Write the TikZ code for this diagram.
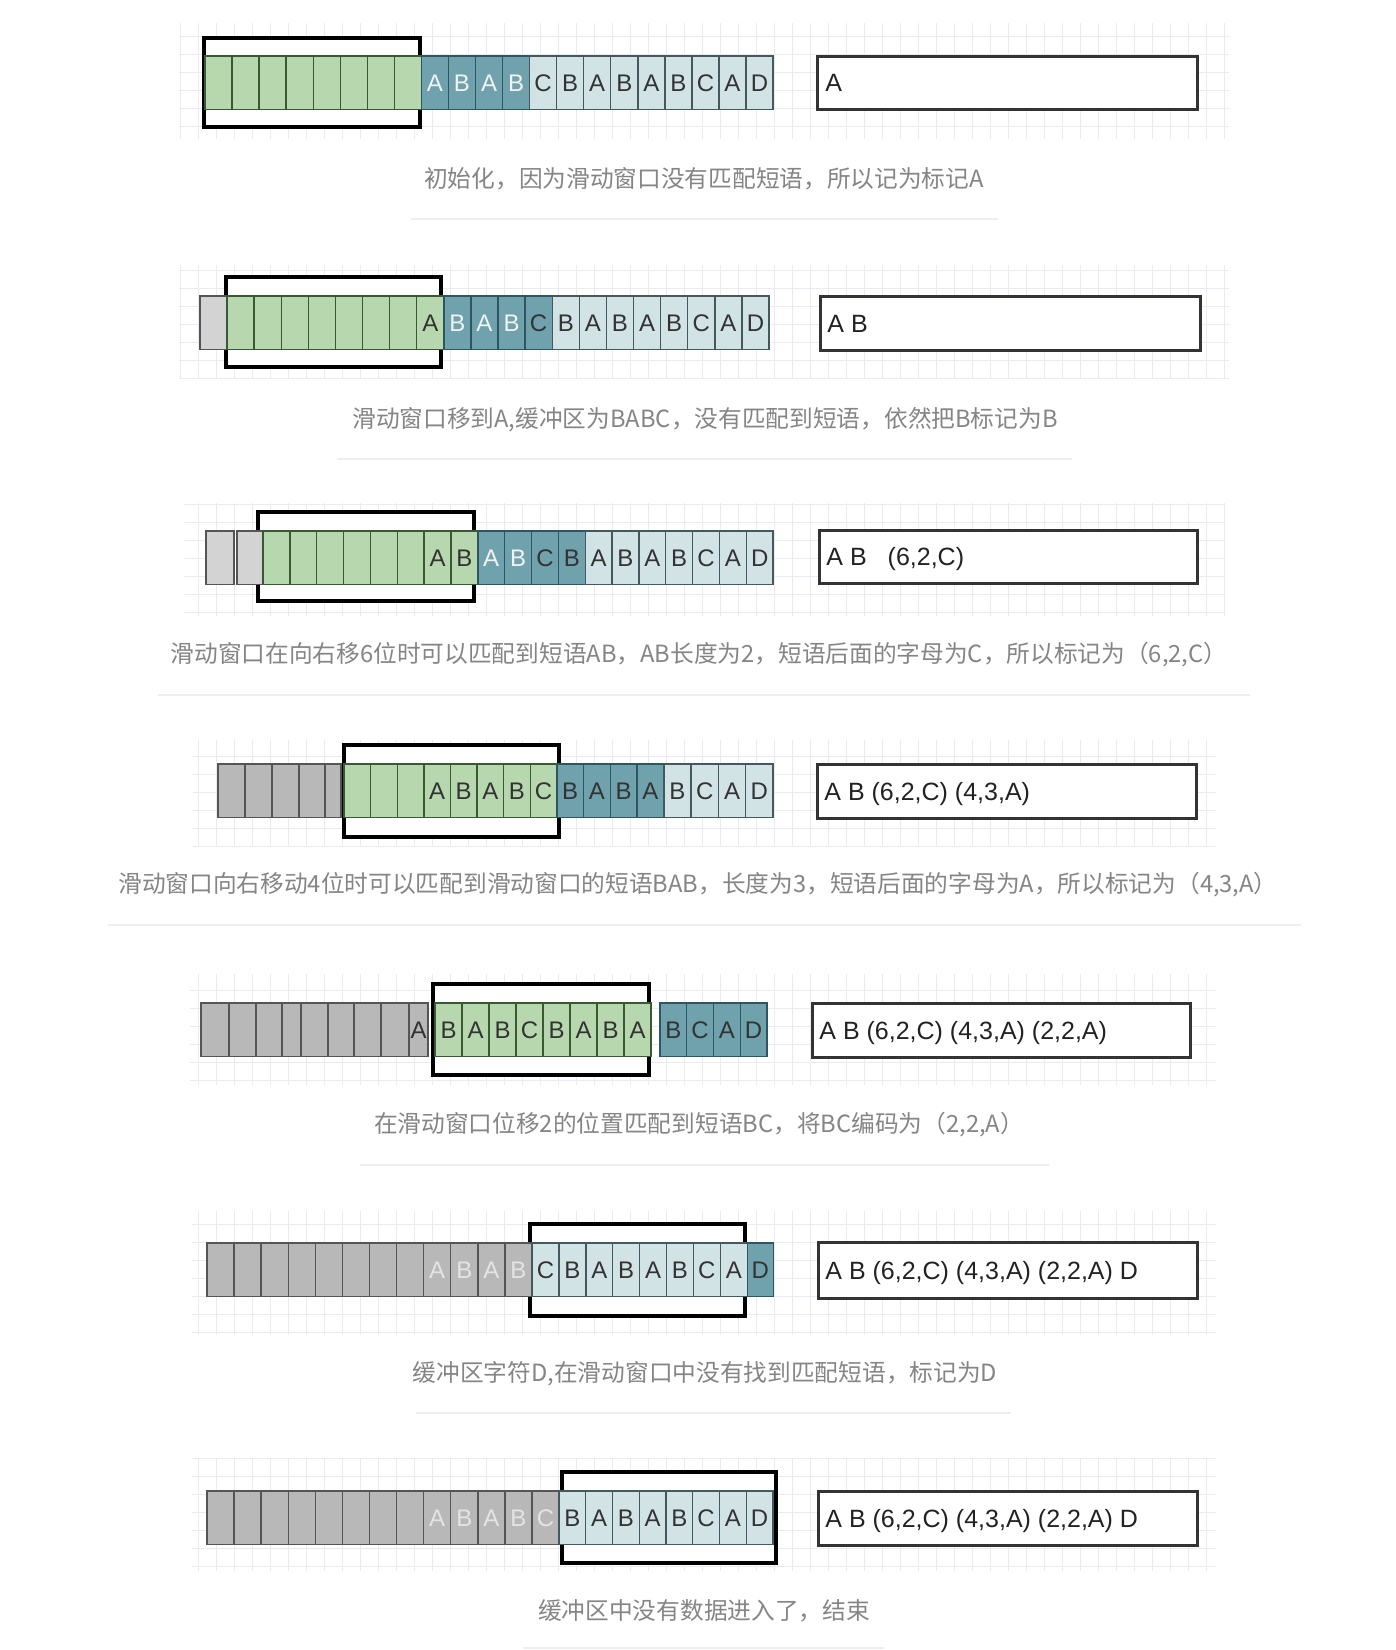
\documentclass[tikz,border=0pt]{standalone}
\usepackage{fontspec}
\setmainfont{Liberation Sans}
\newfontfamily\cjk{Noto Sans CJK SC}
\definecolor{cgreen}{HTML}{B7D8AE}
\definecolor{bgreen}{HTML}{3A5834}
\definecolor{cteal}{HTML}{6FA2AD}
\definecolor{bteal}{HTML}{2E565E}
\definecolor{clight}{HTML}{D2E3E6}
\definecolor{blight}{HTML}{45595D}
\definecolor{cgray}{HTML}{B8B8B8}
\definecolor{cgrayl}{HTML}{D3D3D3}
\definecolor{bgray}{HTML}{555555}
\definecolor{tdark}{HTML}{333333}
\definecolor{twhite}{HTML}{F2F2F2}
\definecolor{tfade}{HTML}{E4E4E4}
\definecolor{boutc}{HTML}{333333}
\definecolor{toutc}{HTML}{222222}
\definecolor{tcap}{HTML}{858585}
\definecolor{csep}{HTML}{EEEEEE}
\definecolor{cgrid}{HTML}{EAEAF5}
\newcommand\seg[6]{\foreach \t [count=\k from 0] in {#6} {\node[#5, minimum width={#3*0.5pt}, anchor=north west] (#1\k) at ({#2+#3*\k},#4) {\t};}}
\newcommand\segx[4]{\foreach \a/\b/\t [count=\k from 0] in {#4} {\node[#2, minimum width={(\b-\a)*0.5pt}, anchor=north west] (#1\k) at (\a,#3) {\t};}}
\begin{document}
\begin{tikzpicture}[x=0.5pt,y=-0.5pt,
 cellbase/.style={draw, line width=0.7pt, minimum height=26.75pt, inner sep=0pt, outer sep=0pt, font=\fontsize{12}{12}\selectfont},
 gc/.style={cellbase, fill=cgreen, draw=bgreen, text=tdark},
 dk/.style={cellbase, fill=cteal, draw=bteal, text=twhite},
 dkd/.style={dk, text=tdark},
 lt/.style={cellbase, fill=clight, draw=blight, text=tdark},
 gy/.style={cellbase, fill=cgray, draw=bgray, text=tfade},
 gyd/.style={gy, text=tdark},
 gyl/.style={cellbase, fill=cgrayl, draw=bgray},
 win/.style={draw=black, line width=1.8pt, fill=white},
 outbox/.style={draw=boutc, line width=1.5pt, fill=white},
 outtxt/.style={anchor=base west, inner sep=0pt, text=toutc, font=\fontsize{12.5}{14}\selectfont},
 caption/.style={text=tcap, font=\cjk\fontsize{11.85}{13}\selectfont, inner sep=0pt},
 sepline/.style={draw=csep, line width=1pt},
 gridl/.style={draw=cgrid, line width=0.5pt}]
\useasboundingbox (0,0) rectangle (1396,1650);
\fill[white] (0,0) rectangle (1396,1650);
% grids
\draw[gridl] (179,139) grid[xstep=9pt,ystep=9pt] (1229,23);
\draw[gridl] (179,379) grid[xstep=9pt,ystep=9pt] (1229,265);
\draw[gridl] (184,616) grid[xstep=9pt,ystep=9pt] (1225,503);
\draw[gridl] (193,846) grid[xstep=9pt,ystep=9pt] (1216,740);
\draw[gridl] (190,1085) grid[xstep=9pt,ystep=9pt] (1216,974);
\draw[gridl] (192,1335) grid[xstep=9pt,ystep=9pt] (1216,1211);
\draw[gridl] (192,1571) grid[xstep=9pt,ystep=9pt] (1216,1458);
% separators
\draw[sepline] (411,219) -- (998,219);
\draw[sepline] (337,459) -- (1072,459);
\draw[sepline] (158,695) -- (1250,695);
\draw[sepline] (108,925) -- (1301,925);
\draw[sepline] (360,1165) -- (1049,1165);
\draw[sepline] (416,1413) -- (1011,1413);
\draw[sepline] (523,1648) -- (884,1648);
% ---- row 1
\draw[win] (204,38) rectangle (420,127);
\seg{r1g}{205}{27.05}{56}{gc}{{},{},{},{},{},{},{},{}}
\seg{r1d}{421.4}{27.05}{56}{dk}{A,B,A,B}
\seg{r1l}{529.6}{27.05}{56}{lt}{C,B,A,B,A,B,C,A,D}
\draw[outbox] (817,56) rectangle (1197,109);
\node[outtxt] (o1) at (825,91.5) {A};
\node[caption] (c1) at (704,179) {初始化，因为滑动窗口没有匹配短语，所以记为标记A};
% ---- row 2
\draw[win] (226,277) rectangle (441,367);
\seg{r2y}{200}{27}{296}{gyl}{{}}
\seg{r2g}{227}{27.1}{296}{gc}{{},{},{},{},{},{},{},A}
\seg{r2d}{443.8}{27.1}{296}{dk}{B,A,B}
\seg{r2e}{525.1}{27.1}{296}{dkd}{C}
\seg{r2l}{552.2}{27.1}{296}{lt}{B,A,B,A,B,C,A,D}
\draw[outbox] (820,296) rectangle (1200,350);
\node[outtxt] (o2) at (827,332) {A B};
\node[caption] (c2) at (705,420) {滑动窗口移到A,缓冲区为BABC，没有匹配到短语，依然把B标记为B};
% ---- row 3
\draw[win] (258,512) rectangle (474,601);
\segx{r3y}{gyl}{531}{206/234/{},237/263/{}}
\seg{r3g}{263}{26.85}{531}{gc}{{},{},{},{},{},{},A,B}
\seg{r3d}{477.8}{26.85}{531}{dk}{A,B}
\seg{r3e}{531.5}{26.85}{531}{dkd}{C,B}
\seg{r3l}{585.2}{26.85}{531}{lt}{A,B,A,B,C,A,D}
\draw[outbox] (819,530) rectangle (1197,583);
\node[outtxt] (o3) at (826,565.5) {A B\hspace{10.5pt}(6,2,C)};
\node[caption] (c3) at (699,655) {滑动窗口在向右移6位时可以匹配到短语AB，AB长度为2，短语后面的字母为C，所以标记为（6,2,C）};
% ---- row 4
\draw[win] (344,745) rectangle (559,837);
\segx{r4y}{gy}{764}{218/245/{},245/272/{},272/299/{},299/325/{},325/341/{}}
\seg{r4g}{344}{26.6}{764}{gc}{{},{},{},A,B,A,B,C}
\seg{r4d}{556.8}{26.75}{764}{dkd}{B,A,B,A}
\seg{r4l}{663.8}{27.3}{764}{lt}{B,C,A,D}
\draw[outbox] (817,764) rectangle (1196,818);
\node[outtxt] (o4) at (824,800) {A B (6,2,C) (4,3,A)};
\node[caption] (c4) at (698,885) {滑动窗口向右移动4位时可以匹配到滑动窗口的短语BAB，长度为3，短语后面的字母为A，所以标记为（4,3,A）};
% ---- row 5
\draw[win] (433,984) rectangle (649,1075);
\segx{r5y}{gyd}{1003}{201/229/{},229/256/{},256/282/{},282/301/{},301/328/{},328/354/{},354/381/{},381/409/{},409/428/A}
\draw[bgray, line width=1.4pt] (r5y7.north west) -- (r5y7.south west);
\seg{r5g}{435}{27}{1003}{gc}{B,A,B,C,B,A,B,A}
\seg{r5d}{660}{26.75}{1003}{dkd}{B,C,A,D}
\draw[outbox] (812,1003) rectangle (1190,1057);
\node[outtxt] (o5) at (819,1039) {A B (6,2,C) (4,3,A) (2,2,A)};
\node[caption] (c5) at (699,1125) {在滑动窗口位移2的位置匹配到短语BC，将BC编码为（2,2,A）};
% ---- row 6
\draw[win] (530,1224) rectangle (745,1316);
\seg{r6y}{207}{27.08}{1243}{gy}{{},{},{},{},{},{},{},{},A,B,A,B}
\seg{r6l}{532}{26.9}{1243}{lt}{C,B,A,B,A,B,C,A}
\seg{r6d}{747.2}{26}{1243}{dkd}{D}
\draw[outbox] (818,1242) rectangle (1197,1298);
\node[outtxt] (o6) at (825,1279) {A B (6,2,C) (4,3,A) (2,2,A) D};
\node[caption] (c6) at (705,1374) {缓冲区字符D,在滑动窗口中没有找到匹配短语，标记为D};
% ---- row 7
\draw[win] (562,1472) rectangle (776,1563);
\seg{r7y}{207}{27.08}{1491}{gy}{{},{},{},{},{},{},{},{},A,B,A,B,C}
\seg{r7l}{559}{26.75}{1491}{lt}{B,A,B,A,B,C,A,D}
\draw[outbox] (818,1491) rectangle (1197,1545);
\node[outtxt] (o7) at (825,1527) {A B (6,2,C) (4,3,A) (2,2,A) D};
\node[caption] (c7) at (704,1611) {缓冲区中没有数据进入了，结束};
\end{tikzpicture}
\end{document}
